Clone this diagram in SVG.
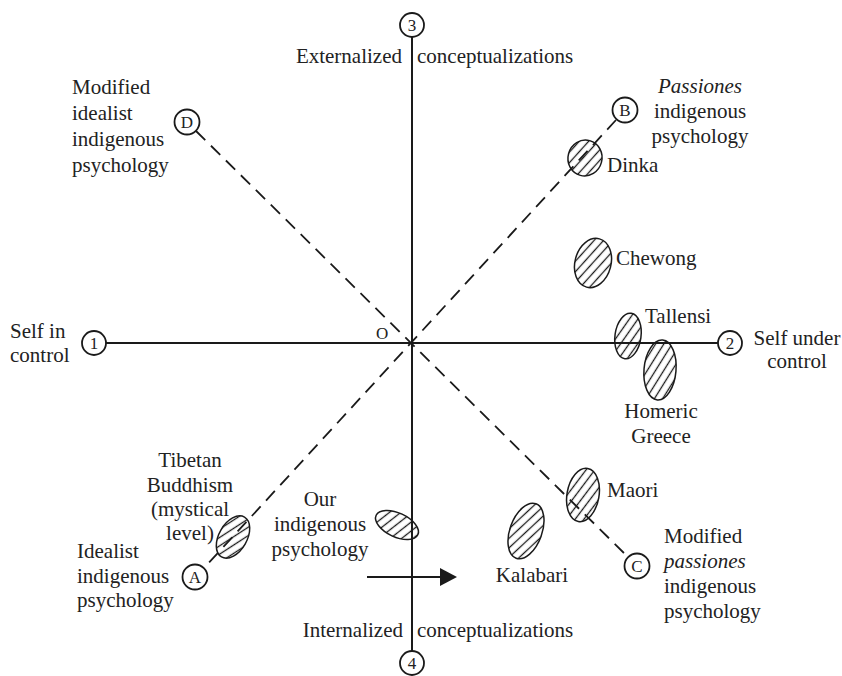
<svg xmlns="http://www.w3.org/2000/svg" width="842" height="676" viewBox="0 0 842 676">
<defs>
<pattern id="hatch" patternUnits="userSpaceOnUse" width="7" height="10" patternTransform="rotate(27)">
<line x1="3.5" y1="0" x2="3.5" y2="10" stroke="#1a1a1a" stroke-width="1.3"/>
</pattern>
<marker id="arrow" viewBox="0 0 17 18" refX="0" refY="9" markerWidth="17" markerHeight="18" markerUnits="userSpaceOnUse" orient="auto">
<polygon points="0,0 17,9 0,18" fill="#1a1a1a"/>
</marker>
</defs>
<style>
text{font-family:'Liberation Serif','Times New Roman',serif;font-size:21px;fill:#222}
.it{font-style:italic}
.c{text-anchor:middle}
.e{text-anchor:end}
.lbl{font-size:17px;text-anchor:middle}
.node circle{fill:#fff;stroke:#1a1a1a;stroke-width:1.8}
.axis{stroke:#1a1a1a;stroke-width:2;fill:none}
.dash{stroke:#1a1a1a;stroke-width:1.8;stroke-dasharray:13 8;fill:none}
.blob ellipse{fill:url(#hatch);stroke:#1a1a1a;stroke-width:1.5}
</style>
<rect width="842" height="676" fill="#fff"/>
<g id="connectors">
<line class="axis" x1="412" y1="37" x2="412" y2="651"/>
<line class="axis" x1="106" y1="343" x2="718" y2="343"/>
<line class="dash" x1="196" y1="131" x2="628" y2="557"/>
<line class="dash" x1="616" y1="120" x2="204" y2="568"/>
<line class="axis" x1="367" y1="577" x2="440" y2="577" marker-end="url(#arrow)"/>
</g>
<g id="n3" class="node"><circle cx="412" cy="25" r="12"/><text class="lbl" x="412" y="31">3</text></g>
<g id="n4" class="node"><circle cx="412" cy="663" r="12"/><text class="lbl" x="412" y="669">4</text></g>
<g id="n1" class="node"><circle cx="94" cy="343" r="12"/><text class="lbl" x="94" y="349">1</text></g>
<g id="n2" class="node"><circle cx="730" cy="343" r="12"/><text class="lbl" x="730" y="349">2</text></g>
<g id="nD" class="node"><circle cx="187" cy="122" r="12.5"/><text class="lbl" x="187" y="128">D</text></g>
<g id="nB" class="node"><circle cx="625" cy="110" r="12.5"/><text class="lbl" x="625" y="116">B</text></g>
<g id="nA" class="node"><circle cx="195" cy="577" r="12.5"/><text class="lbl" x="195" y="583">A</text></g>
<g id="nC" class="node"><circle cx="637" cy="566" r="12.5"/><text class="lbl" x="637" y="572">C</text></g>
<g id="axis-labels">
<text class="e" x="402" y="63">Externalized</text>
<text x="417" y="63">conceptualizations</text>
<text class="e" x="403" y="637">Internalized</text>
<text x="417" y="637">conceptualizations</text>
<text x="10" y="338">Self in</text>
<text x="10" y="362">control</text>
<text class="c" x="797" y="345">Self under</text>
<text class="c" x="797" y="368">control</text>
<text x="376" y="339" style="font-size:17px">O</text>
</g>
<g id="labelD"><text x="72" y="94">Modified</text><text x="72" y="120">idealist</text><text x="72" y="146">indigenous</text><text x="72" y="172">psychology</text></g>
<g id="labelB"><text class="c it" x="700" y="93">Passiones</text><text class="c" x="700" y="118">indigenous</text><text class="c" x="700" y="143">psychology</text></g>
<g id="labelA"><text x="77" y="558">Idealist</text><text x="77" y="583">indigenous</text><text x="77" y="607">psychology</text></g>
<g id="labelC"><text x="664" y="543">Modified</text><text class="it" x="664" y="568">passiones</text><text x="664" y="593">indigenous</text><text x="664" y="618">psychology</text></g>
<g id="dinka" class="blob"><ellipse cx="585" cy="158" rx="17" ry="18" transform="rotate(15 585 158)"/><text x="607" y="172">Dinka</text></g>
<g id="chewong" class="blob"><ellipse cx="593" cy="263" rx="18" ry="25" transform="rotate(15 593 263)"/><text x="616" y="265">Chewong</text></g>
<g id="tallensi" class="blob"><ellipse cx="628" cy="336" rx="13" ry="23" transform="rotate(8 628 336)"/><text x="645" y="323">Tallensi</text></g>
<g id="homeric" class="blob"><ellipse cx="660" cy="370" rx="16" ry="30" transform="rotate(5 660 370)"/><text class="c" x="661" y="418">Homeric</text><text class="c" x="661" y="443">Greece</text></g>
<g id="maori" class="blob"><ellipse cx="583" cy="495" rx="16" ry="27" transform="rotate(10 583 495)"/><text x="607" y="497">Maori</text></g>
<g id="kalabari" class="blob"><ellipse cx="526" cy="531" rx="16" ry="29" transform="rotate(20 526 531)"/><text class="c" x="532" y="582">Kalabari</text></g>
<g id="tibetan" class="blob"><ellipse cx="233" cy="537" rx="14" ry="23" transform="rotate(30 233 537)"/><text class="c" x="190" y="467">Tibetan</text><text class="c" x="190" y="492">Buddhism</text><text class="c" x="190" y="516">(mystical</text><text class="c" x="190" y="540">level)</text></g>
<g id="ours" class="blob"><ellipse cx="397" cy="525" rx="23" ry="12" transform="rotate(25 397 525)"/><text class="c" x="320" y="506">Our</text><text class="c" x="320" y="531">indigenous</text><text class="c" x="320" y="556">psychology</text></g>
</svg>
